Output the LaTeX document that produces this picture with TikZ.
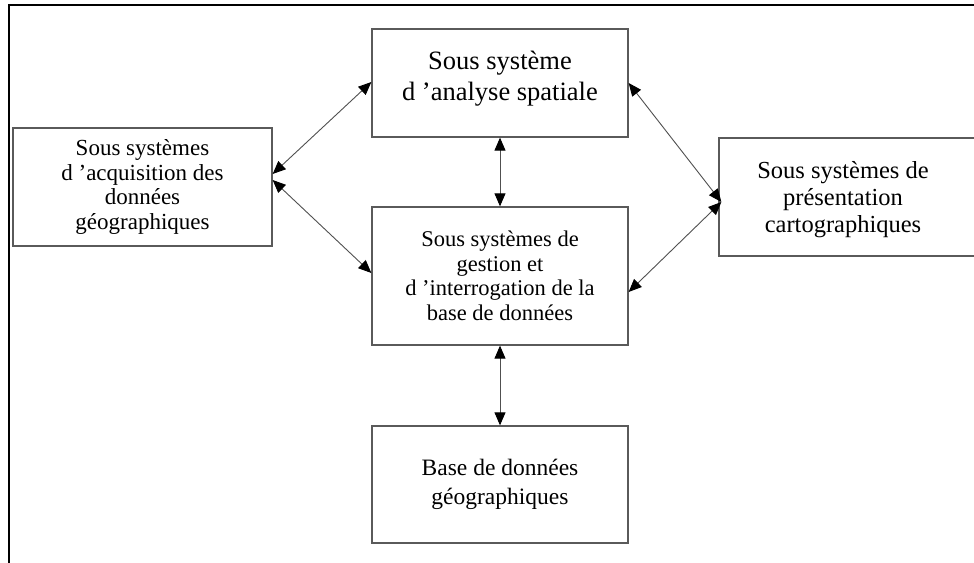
\documentclass[tikz,border=0pt]{standalone}
\usepackage{fontspec}
\setmainfont{Liberation Serif}
\usetikzlibrary{arrows.meta}
\definecolor{boxgray}{HTML}{5A5A5A}
\definecolor{linegray}{HTML}{505050}
\tikzset{
  sbox/.style={draw=boxgray, line width=1.3pt, align=center, inner sep=0pt,
    font=\fontsize{23}{24.5}\selectfont},
  tip/.tip={Triangle[length=13pt,width=11pt,fill=black,color=black]},
  link/.style={draw=linegray, line width=0.9pt, tip-tip},
  frame/.style={draw=black, line width=2.8pt}
}
\begin{document}
\begin{tikzpicture}[x=1pt,y=1pt]
\useasboundingbox (0,0) rectangle (974,562);
\fill[white] (0,0) rectangle (974,562);
\clip (0,0) rectangle (974,562);
% frame (top and left lines)
\coordinate (fa) at (9,-5);
\coordinate (fb) at (9,557);
\coordinate (fc) at (980,557);
\draw[frame] (fa) -- (fb) -- (fc);
% boxes
\node[sbox, minimum width=259pt, minimum height=118pt] (acq) at (142.5,375)
  {Sous systèmes\\d ’acquisition des\\données\\géographiques};
\node[sbox, minimum width=256pt, minimum height=108pt] (ana) at (500,479) {};
\node[font=\fontsize{26.5}{31}\selectfont, align=center, inner sep=0pt] (anat) at (500,483)
  {Sous système\\d ’analyse spatiale};
\node[sbox, minimum width=256pt, minimum height=138pt, font=\fontsize{22.5}{24.5}\selectfont] (ges) at (500,286)
  {Sous systèmes de\\gestion et\\d ’interrogation de la\\base de données};
\node[sbox, minimum width=256pt, minimum height=117pt, font=\fontsize{23.5}{29}\selectfont] (base) at (500,77.5)
  {Base de données\\géographiques};
\node[sbox, minimum width=261pt, minimum height=118pt] (pres) at (849.5,365) {};
\node[font=\fontsize{24.5}{27}\selectfont, align=center, inner sep=0pt] (prest) at (843,362)
  {Sous systèmes de\\présentation\\cartographiques};
% connectors
\draw[link] ([yshift=13pt]acq.east) -- ([yshift=1pt]ana.west);
\draw[link] ([yshift=7pt]acq.east) -- ([yshift=3pt]ges.west);
\draw[link] (ana.south) -- (ges.north);
\draw[link] (ges.south) -- (base.north);
\draw[link] ([yshift=-5pt,xshift=3pt]pres.west) -- (ana.east);
\draw[link] ([yshift=-5pt,xshift=3pt]pres.west) -- ([yshift=-16pt]ges.east);
\end{tikzpicture}
\end{document}
